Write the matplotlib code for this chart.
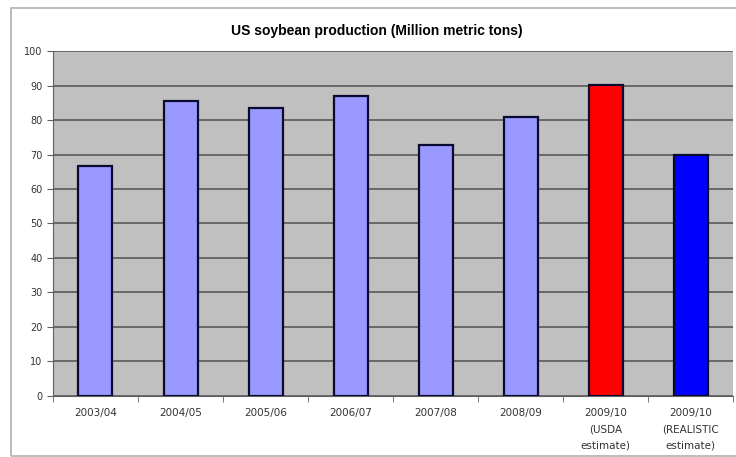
import matplotlib.pyplot as plt
import matplotlib.patches as patches
import numpy as np

# 数据
seasons = ['2003/04', '2004/05', '2005/06', '2006/07', '2007/08', '2008/09',
           '2009/10\n(USDA\nestimate)', '2009/10\n(REALISTIC\nestimate)']
production = [66.8, 85.5, 83.5, 87.0, 72.9, 80.8, 90.3, 70.0]
bar_colors = ['#9999ff'] * 6 + ['#ff0000', '#0000ff']

fig = plt.figure(figsize=(7.36, 4.57), dpi=100)
ax = fig.add_axes([0.072, 0.134, 0.924, 0.754])

# 外框（右边超出图片）
fig.patches.append(patches.Rectangle((0.015, 0.002), 1.0, 0.981, transform=fig.transFigure,
                                     fill=False, edgecolor='#b0b0b0', linewidth=1.2))

x = np.arange(len(seasons))
ax.set_facecolor('#c0c0c0')
ax.bar(x, production, width=0.4, color=bar_colors, edgecolor='#0a0a30', linewidth=1.6, zorder=3)

ax.set_xlim(-0.5, len(seasons) - 0.5)
ax.set_ylim(0, 100)
ax.set_yticks(range(0, 101, 10))
ax.yaxis.grid(True, color='#505050', linewidth=1.1, zorder=1)
ax.set_xticks(x)
ax.set_xticklabels(seasons, fontsize=7.5, color='#333333', linespacing=1.75)
ax.set_xticks(np.arange(-0.5, len(seasons), 1), minor=True)
ax.tick_params(axis='x', which='major', length=0, pad=9)
ax.tick_params(axis='x', which='minor', length=4, color='#606060')
ax.tick_params(axis='y', labelsize=7, labelcolor='#333333', length=4, color='#606060')

for side in ['top', 'right']:
    ax.spines[side].set_visible(False)
ax.spines['left'].set_color('#606060')
ax.spines['bottom'].set_color('#606060')

fig.text(0.512, 0.932, 'US soybean production (Million metric tons)', ha='center', va='center',
         fontsize=10, fontweight='bold', family='Liberation Sans')

fig.savefig('out.png', dpi=100)
